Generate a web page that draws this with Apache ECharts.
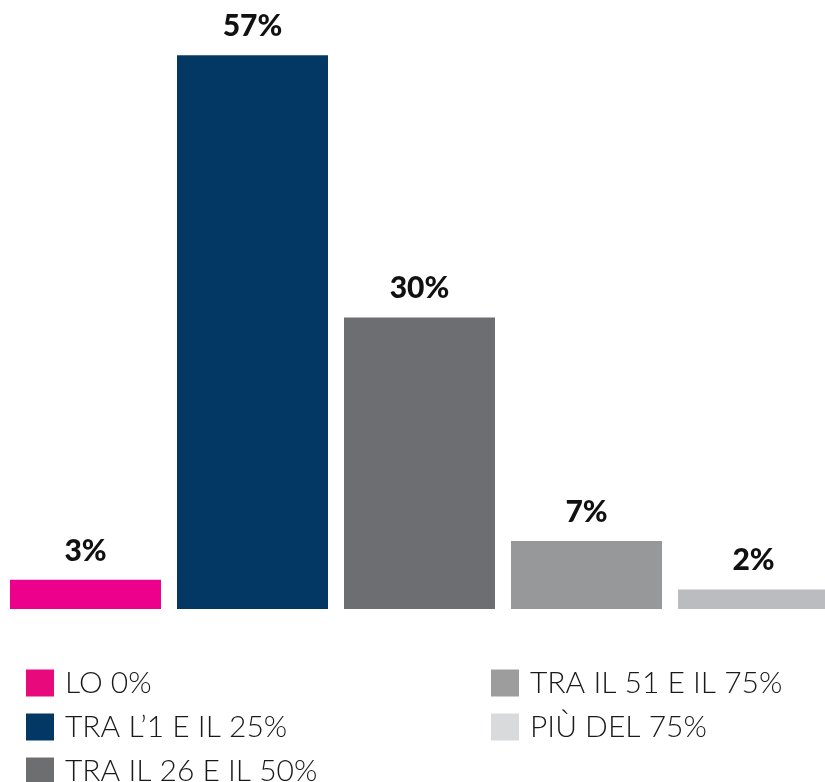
<!DOCTYPE html>
<html>
<head>
<meta charset="utf-8">
<script src="https://cdn.jsdelivr.net/npm/echarts@6/dist/echarts.min.js"></script>
<style>
  html, body { margin: 0; padding: 0; background: #fff; }
  #chart { width: 825px; height: 782px; }
</style>
</head>
<body>
<div id="chart"></div>
<script>
var categories = ['LO 0%', 'TRA L\u20191 E IL 25%', 'TRA IL 26 E IL 50%', 'TRA IL 51 E IL 75%', 'PI\u00d9 DEL 75%'];
var values = [3, 57, 30, 7, 2];
var barColors = ['#ec008c', '#033865', '#6d6e72', '#97989a', '#bbbcc0'];
var legendColors = ['#e8097c', '#033865', '#6d6e70', '#9d9d9d', '#d9dadb'];

var myChart = echarts.init(document.getElementById('chart'));

var series = categories.map(function(name, i){
    var data = categories.map(function(c, j){ return j === i ? values[i] : '-'; });
    return {
        name: name,
        type: 'bar',
        stack: 'all',
        barWidth: 151,
        data: data,
        itemStyle: { color: barColors[i] },
        label: {
            show: true,
            position: 'top',
            distance: 14,
            formatter: '{c}%',
            color: '#111',
            fontFamily: 'Lato',
            fontWeight: 900,
            fontSize: 30
        }
    };
});

var legendText = {
    fontFamily: 'Lato',
    fontWeight: 300,
    fontSize: 30,
    color: '#1a1a1a',
    lineHeight: 27,
    padding: [0, 0, 0, 6]
};

// horizontal legend with a narrow width so every item takes its own row
function makeLegend(left, from, to){
    var data = [];
    for (var i = from; i < to; i++) {
        data.push({ name: categories[i], itemStyle: { color: legendColors[i] } });
    }
    return {
        orient: 'horizontal',
        left: left,
        top: 668,
        width: 40,
        padding: 0,
        icon: 'rect',
        itemWidth: 28,
        itemHeight: 27,
        itemGap: 14,
        selectedMode: false,
        textStyle: legendText,
        data: data
    };
}

var option = {
    animation: false,
    grid: { left: 2, width: 835, top: 26, bottom: 173, outerBoundsMode: 'none' },
    xAxis: {
        type: 'category',
        data: categories,
        axisLine: { show: false },
        axisTick: { show: false },
        axisLabel: { show: false }
    },
    yAxis: {
        type: 'value',
        min: 0,
        max: 60,
        show: false,
        splitLine: { show: false }
    },
    legend: [makeLegend(26, 0, 3), makeLegend(491, 3, 5)],
    series: series
};

myChart.setOption(option);
</script>
</body>
</html>
